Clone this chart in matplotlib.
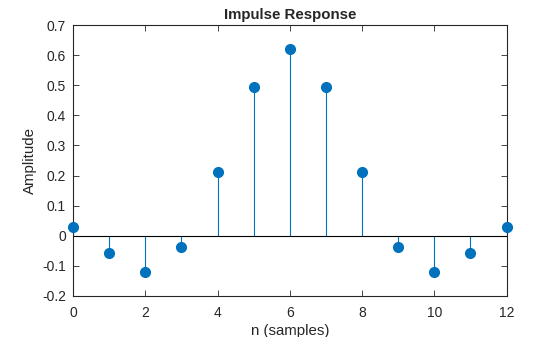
import matplotlib.pyplot as plt
from matplotlib.ticker import FuncFormatter

plt.rcParams["font.family"] = ["Liberation Sans", "DejaVu Sans"]
plt.rcParams["axes.unicode_minus"] = False

# impulse response samples
n = [0, 1, 2, 3, 4, 5, 6, 7, 8, 9, 10, 11, 12]
h = [0.029, -0.056, -0.119, -0.036, 0.211, 0.494, 0.621,
     0.494, 0.211, -0.036, -0.119, -0.056, 0.029]
x_ticks = [0, 2, 4, 6, 8, 10, 12]
y_ticks = [-0.2, -0.1, 0, 0.1, 0.2, 0.3, 0.4, 0.5, 0.6, 0.7]

blue = "#0072BD"
text_col = "#262626"

fig = plt.figure(figsize=(5.6, 3.37), dpi=100)
ax = fig.add_axes([0.1304, 0.1217, 0.7741, 0.8041])

markers, stems, base = ax.stem(n, h)
plt.setp(stems, color=blue, linewidth=0.8)
plt.setp(markers, color=blue, markersize=7, clip_on=False, zorder=5)
plt.setp(base, color="black", linewidth=0.8)

ax.set_xlim(0, 12)
ax.set_ylim(-0.2, 0.7)
ax.set_xticks(x_ticks)
ax.set_yticks(y_ticks)
ax.yaxis.set_major_formatter(FuncFormatter(lambda v, p: f"{v:g}"))

ax.tick_params(direction="in", top=True, right=True, length=4,
               width=0.6, labelsize=10, colors=text_col)
ax.tick_params(axis="x", pad=7)
ax.tick_params(axis="y", pad=5)
for s in ax.spines.values():
    s.set_linewidth(0.8)
    s.set_color(text_col)

ax.set_title("Impulse Response", fontsize=10.8, fontweight="bold",
             color=text_col, pad=4)
ax.set_xlabel("n (samples)", fontsize=10.8, color=text_col, labelpad=3)
ax.set_ylabel("Amplitude", fontsize=10.8, color=text_col, labelpad=4)

fig.savefig("out.png", dpi=100)
